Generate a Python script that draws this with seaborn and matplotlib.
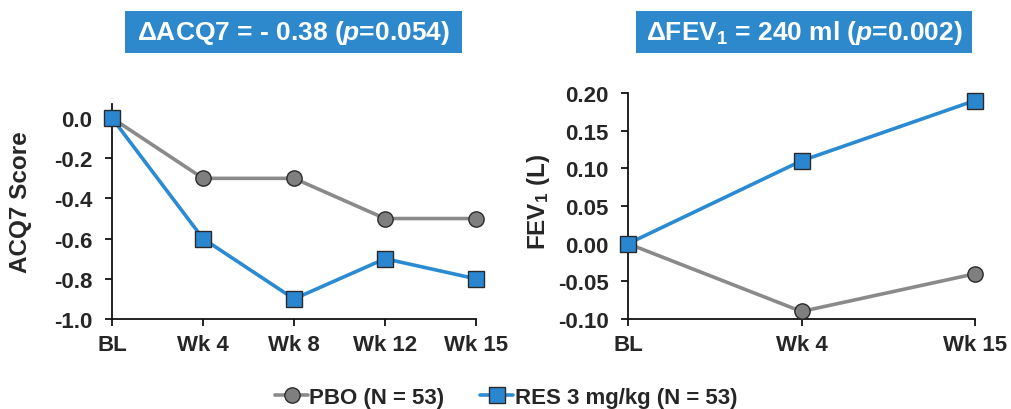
import matplotlib
matplotlib.use("Agg")
import matplotlib.pyplot as plt
from matplotlib.patches import Rectangle
from matplotlib.lines import Line2D
import seaborn as sns
import pandas as pd
import numpy as np

# ---- data ----
acq_weeks = ["BL", "Wk 4", "Wk 8", "Wk 12", "Wk 15"]
acq_pbo = [0.0, -0.3, -0.3, -0.5, -0.5]
acq_res = [0.0, -0.6, -0.9, -0.7, -0.8]

fev_weeks = ["BL", "Wk 4", "Wk 15"]
fev_pbo = [0.0, -0.09, -0.04]
fev_res = [0.0, 0.11, 0.19]

acq_ticks = [0.0, -0.2, -0.4, -0.6, -0.8, -1.0]
fev_ticks = [0.20, 0.15, 0.10, 0.05, 0.00, -0.05, -0.10]

label_pbo = "PBO (N = 53)"
label_res = "RES 3 mg/kg (N = 53)"
title_acq = r"$\Delta$ACQ7 = - 0.38 ($p$=0.054)"
title_fev = r"$\Delta$FEV$_1$ = 240 ml ($p$=0.002)"

# ---- style ----
sns.set_style("ticks")
plt.rcParams["font.family"] = ["Liberation Sans", "DejaVu Sans"]
plt.rcParams["font.weight"] = "bold"
plt.rcParams["mathtext.fontset"] = "custom"
plt.rcParams["mathtext.rm"] = "Liberation Sans:bold"
plt.rcParams["mathtext.bf"] = "Liberation Sans:bold"
plt.rcParams["mathtext.it"] = "Liberation Sans:bold:italic"

GRAY_LINE = "#8a8a8a"
GRAY_FACE = "#7f7f7f"
BLUE_LINE = "#2a8ad2"
BLUE_FACE = "#2a86cf"
EDGE = "#2a2a2a"
BOX = "#2e89cc"

fig = plt.figure(figsize=(10.12, 4.10), dpi=100)
ax1 = fig.add_axes([0.1107, 0.2195, 0.3597, 0.5244])
ax2 = fig.add_axes([0.6206, 0.2195, 0.3428, 0.5512])


def draw(ax, weeks, pbo, res):
    df = pd.DataFrame({
        "x": list(range(len(weeks))) * 2,
        "y": list(pbo) + list(res),
        "g": [label_pbo] * len(weeks) + [label_res] * len(weeks),
    })
    sns.lineplot(data=df[df.g == label_pbo], x="x", y="y", ax=ax, color=GRAY_LINE,
                 marker="o", ms=11, mfc=GRAY_FACE, mec=EDGE, mew=1.0, lw=2.6,
                 sort=False, clip_on=False, legend=False, zorder=3)
    sns.lineplot(data=df[df.g == label_res], x="x", y="y", ax=ax, color=BLUE_LINE,
                 marker="s", ms=11, mfc=BLUE_FACE, mec=EDGE, mew=1.0, lw=2.6,
                 sort=False, clip_on=False, legend=False, zorder=4)
    ax.set_xticks(range(len(weeks)))
    ax.set_xticklabels(weeks)
    ax.set_xlim(0, len(weeks) - 1)
    ax.set_xlabel("")
    sns.despine(ax=ax)
    for s in ("left", "bottom"):
        ax.spines[s].set_linewidth(1.3)
        ax.spines[s].set_color("#111111")
    ax.tick_params(axis="both", labelsize=16, width=1.3, length=5, color="#111111")
    ax.tick_params(axis="y", pad=9)
    ax.tick_params(axis="x", pad=6)
    for t in ax.get_xticklabels() + ax.get_yticklabels():
        t.set_fontweight("bold")


draw(ax1, acq_weeks, acq_pbo, acq_res)
ax1.set_ylim(-1.0, 0.07)
ax1.set_yticks(acq_ticks)
ax1.set_yticklabels([f"{v:.1f}" for v in acq_ticks], fontweight="bold")
ax1.set_ylabel("ACQ7 Score", fontsize=17.5, fontweight="bold")
ax1.yaxis.set_label_coords(-0.22, 0.549)

draw(ax2, fev_weeks, fev_pbo, fev_res)
ax2.set_ylim(-0.10, 0.20)
ax2.set_yticks(fev_ticks)
ax2.set_yticklabels([f"{v:.2f}" for v in fev_ticks], fontweight="bold")
ax2.set_ylabel("FEV$_1$ (L)", fontsize=17.5, fontweight="bold")
ax2.yaxis.set_label_coords(-0.219, 0.522)

# title boxes
for (x0, x1, txt) in [(125, 462, title_acq), (636, 972, title_fev)]:
    fig.patches.append(Rectangle((x0 / 1012, 1 - 54 / 410), (x1 - x0) / 1012, 42 / 410,
                                 transform=fig.transFigure, facecolor=BOX,
                                 edgecolor="none", zorder=1))
    fig.text((x0 + x1) / 2 / 1012, 1 - 33 / 410, txt, ha="center", va="center",
             color="white", fontsize=19, fontweight="bold", zorder=2)

handles = [
    Line2D([], [], color=GRAY_LINE, lw=2.6, marker="o", ms=11, mfc=GRAY_FACE, mec=EDGE, mew=1.0),
    Line2D([], [], color=BLUE_LINE, lw=2.6, marker="s", ms=11, mfc=BLUE_FACE, mec=EDGE, mew=1.0),
]
fig.legend(handles, [label_pbo, label_res], loc="center", bbox_to_anchor=(0.5, 0.028),
           ncol=2, frameon=False, handlelength=1.5, handletextpad=0.05,
           columnspacing=1.6, prop={"size": 16, "weight": "bold"})

fig.savefig("out.png", dpi=100)
